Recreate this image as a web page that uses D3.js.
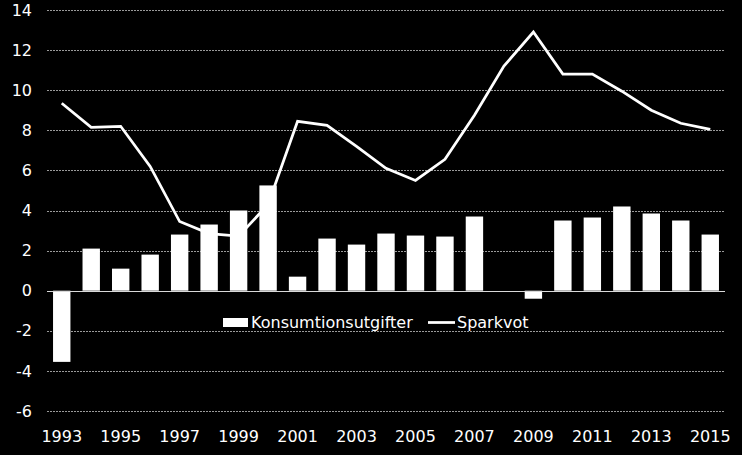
<!DOCTYPE html>
<html>
<head>
<meta charset="utf-8">
<script src="https://cdn.jsdelivr.net/npm/d3@7"></script>
<style>
html,body{margin:0;padding:0;background:#000;}
svg{display:block;}
text{font-family:"DejaVu Sans",Verdana,sans-serif;fill:#fff;}
</style>
</head>
<body>
<svg id="chart" width="742" height="455"></svg>
<script>
const years = [1993,1994,1995,1996,1997,1998,1999,2000,2001,2002,2003,2004,2005,2006,2007,2008,2009,2010,2011,2012,2013,2014,2015];
const konsumtion = [-3.55,2.1,1.1,1.8,2.8,3.3,4.0,5.25,0.7,2.6,2.3,2.85,2.75,2.7,3.7,0,-0.4,3.5,3.65,4.2,3.85,3.5,2.8];
const sparkvot = [9.35,8.15,8.2,6.2,3.45,2.85,2.72,4.3,8.45,8.25,7.2,6.1,5.5,6.55,8.75,11.2,12.9,10.8,10.8,9.95,9.0,8.35,8.05];
const yTicks = [-6,-4,-2,0,2,4,6,8,10,12,14];
const xLabelYears = [1993,1995,1997,1999,2001,2003,2005,2007,2009,2011,2013,2015];
const seriesNames = ["Konsumtionsutgifter","Sparkvot"];

const svg = d3.select("#chart");
const mLeft = 47, mRight = 725, mTop = 10, mBottom = 411;

const x = d3.scaleBand().domain(years).range([mLeft, mRight]).paddingInner(0.41).paddingOuter(0.205);
const y = d3.scaleLinear().domain([-6, 14]).range([mBottom, mTop]);

// gridlines
svg.append("g").selectAll("line").data(yTicks.filter(d => d !== 0)).join("line")
  .attr("x1", mLeft).attr("x2", mRight - 1)
  .attr("y1", d => Math.round(y(d)) + 0.5).attr("y2", d => Math.round(y(d)) + 0.5)
  .attr("stroke", "#9a9a9a").attr("stroke-width", 1).attr("stroke-dasharray", "2,1");

// y axis labels
const yAxis = d3.axisLeft(y).tickValues(yTicks).tickSize(0).tickPadding(0).tickFormat(d => String(d));
const yg = svg.append("g").attr("transform", `translate(32,0)`).call(yAxis);
yg.select(".domain").remove();
yg.selectAll("text").attr("font-size", 16).attr("font-family", "DejaVu Sans").attr("fill", "#fff");

// bars
svg.append("g").selectAll("rect").data(years.map((yr, i) => ({yr, v: konsumtion[i]}))).join("rect")
  .attr("x", d => x(d.yr)).attr("width", x.bandwidth())
  .attr("y", d => y(Math.max(0, d.v))).attr("height", d => Math.abs(y(d.v) - y(0)))
  .attr("fill", "#fff");

// zero line
svg.append("line").attr("x1", mLeft).attr("x2", mRight)
  .attr("y1", Math.round(y(0)) + 0.5).attr("y2", Math.round(y(0)) + 0.5)
  .attr("stroke", "#d9d9d9").attr("stroke-width", 1);

// line
const line = d3.line().x((d, i) => x(years[i]) + x.bandwidth() / 2).y(d => y(d));
svg.append("path").datum(sparkvot).attr("d", line)
  .attr("fill", "none").attr("stroke", "#fff").attr("stroke-width", 2.75).attr("stroke-linejoin", "miter");

// x axis labels
const xAxis = d3.axisBottom(x).tickValues(xLabelYears).tickSize(0).tickPadding(0);
const xg = svg.append("g").attr("transform", `translate(0,${mBottom + 20})`).call(xAxis);
xg.select(".domain").remove();
xg.selectAll("text").attr("font-size", 16).attr("font-family", "DejaVu Sans").attr("fill", "#fff").attr("dy", "0.7em");

// legend
const lg = svg.append("g");
lg.append("rect").attr("x", 223).attr("y", 318).attr("width", 25).attr("height", 9).attr("fill", "#fff");
lg.append("text").attr("x", 251).attr("y", 328).attr("font-size", 16).text(seriesNames[0]);
lg.append("line").attr("x1", 428).attr("x2", 455).attr("y1", 322.5).attr("y2", 322.5).attr("stroke", "#fff").attr("stroke-width", 2.75);
lg.append("text").attr("x", 457).attr("y", 328).attr("font-size", 16).text(seriesNames[1]);
</script>
</body>
</html>
